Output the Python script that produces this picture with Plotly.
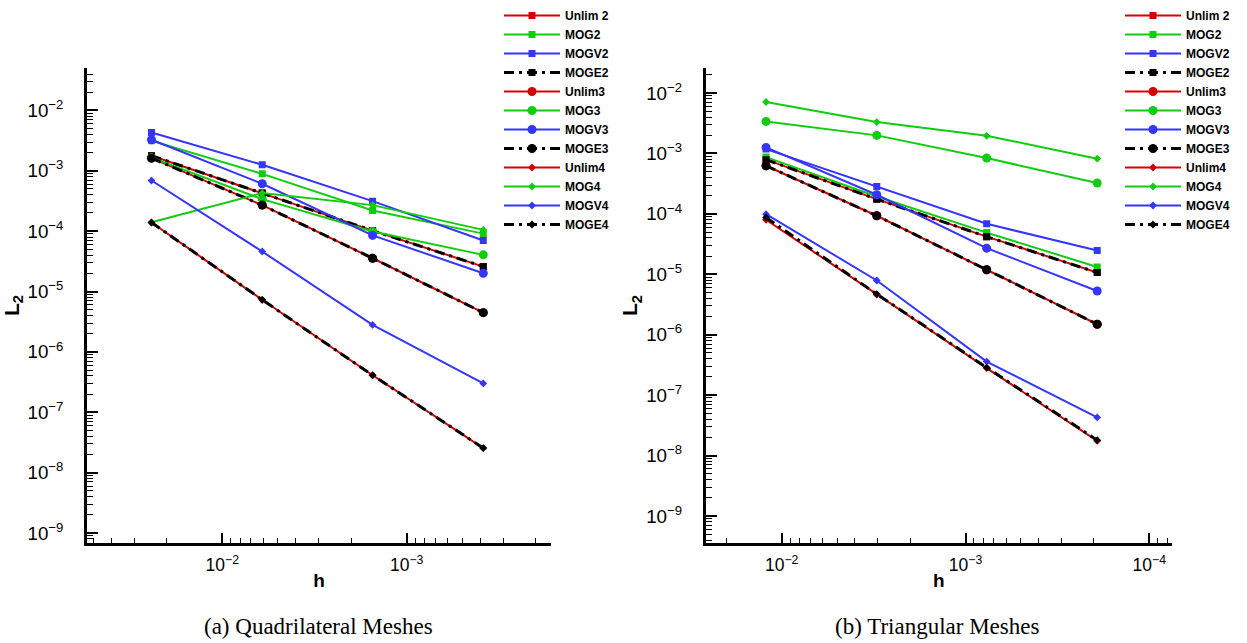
import plotly.graph_objects as go

# ---------------- data ----------------
series_names = ["Unlim 2", "MOG2", "MOGV2", "MOGE2",
                "Unlim3", "MOG3", "MOGV3", "MOGE3",
                "Unlim4", "MOG4", "MOGV4", "MOGE4"]

# (a) Quadrilateral meshes
h_quad = [0.0242, 0.00607, 0.00153, 0.000384]
quad_Unlim2 = [1.78e-3, 4.27e-4, 1.02e-4, 2.59e-5]
quad_MOG2 = [3.15e-3, 8.9e-4, 2.2e-4, 9.1e-5]
quad_MOGV2 = [4.31e-3, 1.26e-3, 3.14e-4, 7.0e-5]
quad_MOGE2 = [1.78e-3, 4.27e-4, 1.02e-4, 2.59e-5]
quad_Unlim3 = [1.62e-3, 2.7e-4, 3.56e-5, 4.47e-6]
quad_MOG3 = [1.65e-3, 3.39e-4, 9.9e-5, 4.05e-5]
quad_MOGV3 = [3.27e-3, 6.1e-4, 8.5e-5, 2.01e-5]
quad_MOGE3 = [1.62e-3, 2.7e-4, 3.56e-5, 4.47e-6]
quad_Unlim4 = [1.39e-4, 7.3e-6, 4.1e-7, 2.55e-8]
quad_MOG4 = [1.4e-4, 4.27e-4, 2.7e-4, 1.05e-4]
quad_MOGV4 = [6.9e-4, 4.6e-5, 2.8e-6, 3.0e-7]
quad_MOGE4 = [1.39e-4, 7.3e-6, 4.1e-7, 2.55e-8]

# (b) Triangular meshes
h_tri = [0.01217, 0.00304, 0.000767, 0.000192]
tri_Unlim2 = [7.9e-4, 1.75e-4, 4.2e-5, 1.07e-5]
tri_MOG2 = [8.7e-4, 1.94e-4, 4.9e-5, 1.32e-5]
tri_MOGV2 = [1.18e-3, 2.85e-4, 6.85e-5, 2.48e-5]
tri_MOGE2 = [7.9e-4, 1.75e-4, 4.2e-5, 1.07e-5]
tri_Unlim3 = [6.25e-4, 9.3e-5, 1.19e-5, 1.49e-6]
tri_MOG3 = [3.39e-3, 1.99e-3, 8.4e-4, 3.24e-4]
tri_MOGV3 = [1.26e-3, 2.07e-4, 2.71e-5, 5.3e-6]
tri_MOGE3 = [6.25e-4, 9.3e-5, 1.19e-5, 1.49e-6]
tri_Unlim4 = [7.98e-5, 4.6e-6, 2.8e-7, 1.75e-8]
tri_MOG4 = [7.1e-3, 3.31e-3, 1.96e-3, 8.2e-4]
tri_MOGV4 = [9.9e-5, 7.9e-6, 3.6e-7, 4.27e-8]
tri_MOGE4 = [8.7e-5, 4.7e-6, 2.86e-7, 1.8e-8]

quad_values = [quad_Unlim2, quad_MOG2, quad_MOGV2, quad_MOGE2,
               quad_Unlim3, quad_MOG3, quad_MOGV3, quad_MOGE3,
               quad_Unlim4, quad_MOG4, quad_MOGV4, quad_MOGE4]
tri_values = [tri_Unlim2, tri_MOG2, tri_MOGV2, tri_MOGE2,
              tri_Unlim3, tri_MOG3, tri_MOGV3, tri_MOGE3,
              tri_Unlim4, tri_MOG4, tri_MOGV4, tri_MOGE4]

# ---------------- styles ----------------
RED, GREEN, BLUE, BLACK = "#D40000", "#11CC11", "#3535FF", "#000000"
family_colors = [RED, GREEN, BLUE, BLACK]
order_symbols = [("square", 7), ("circle", 9), ("diamond", 6)]
DASHDOT = "10px,5px,3px,5px"

W, H = 1247, 643
FONT = "Liberation Sans"


def px_x(p):
    return p / W


def px_y(p):
    return 1 - p / H


fig = go.Figure()


def add_panel(hvals, values, xa, ya, legend_id):
    for i, (name, yv) in enumerate(zip(series_names, values)):
        color = family_colors[i % 4]
        symbol, msize = order_symbols[i // 4]
        is_black = (i % 4 == 3)
        fig.add_trace(go.Scatter(
            x=hvals, y=yv, name=name, mode="lines+markers",
            xaxis=xa, yaxis=ya, legend=legend_id,
            line=dict(color=color, width=3 if is_black else 2,
                      dash=DASHDOT if is_black else "solid"),
            marker=dict(symbol=symbol, size=msize, color=color,
                        line=dict(width=0)),
        ))


add_panel(h_quad, quad_values, "x", "y", "legend")
add_panel(h_tri, tri_values, "x2", "y2", "legend2")

top_px, bot_px = 68, 543


def xaxis_cfg(dom, rng, anchor):
    return dict(
        type="log", range=rng, domain=dom, anchor=anchor,
        showline=True, linewidth=3, linecolor="black", mirror=False,
        showgrid=False, zeroline=False,
        ticks="inside", ticklen=10, tickwidth=2, tickcolor="black",
        dtick=1, exponentformat="power",
        minor=dict(ticks="inside", ticklen=5, tickwidth=1,
                   tickcolor="black", dtick="D1", showgrid=False),
        tickfont=dict(family=FONT, size=14, color="black"),
        ticklabelstandoff=5,
        title=dict(text="<b>h</b>", font=dict(family=FONT, size=19, color="black"),
                   standoff=0),
        automargin=False,
    )


def yaxis_cfg(rng, anchor):
    return dict(
        type="log", range=rng, domain=[px_y(bot_px), px_y(top_px)], anchor=anchor,
        showline=True, linewidth=3, linecolor="black", mirror=False,
        showgrid=False, zeroline=False,
        ticks="inside", ticklen=11, tickwidth=2, tickcolor="black",
        dtick=1, exponentformat="power",
        minor=dict(ticks="inside", ticklen=6, tickwidth=1,
                   tickcolor="black", dtick="D1", showgrid=False),
        tickfont=dict(family=FONT, size=15, color="black"),
        ticklabelstandoff=18,
        title=dict(text="<b>L<sub>2</sub></b>",
                   font=dict(family=FONT, size=21, color="black"), standoff=3),
        automargin=False,
    )


legend_common = dict(
    font=dict(family=FONT, size=12, color="black", weight="bold"),
    bgcolor="rgba(0,0,0,0)", borderwidth=0, tracegroupgap=0,
    xanchor="left", yanchor="top", itemwidth=56,
)

fig.update_layout(
    width=W, height=H,
    margin=dict(l=0, r=0, t=0, b=0),
    paper_bgcolor="white", plot_bgcolor="white",
    showlegend=True,
    xaxis=xaxis_cfg([px_x(87.3), px_x(551)], [-1.268, -3.783], "y"),
    yaxis=yaxis_cfg([-9.166, -1.297], "x"),
    xaxis2=xaxis_cfg([px_x(706), px_x(1171.7)], [-1.588, -4.122], "y2"),
    yaxis2=yaxis_cfg([-9.447, -1.586], "x2"),
    legend=dict(x=px_x(499), y=px_y(1), **legend_common),
    legend2=dict(x=px_x(1120), y=px_y(1), **legend_common),
    annotations=[
        dict(text="(a) Quadrilateral Meshes", x=px_x(318), y=px_y(626),
             xref="paper", yref="paper", showarrow=False,
             xanchor="center", yanchor="middle",
             font=dict(family="Liberation Serif", size=23, color="black")),
        dict(text="(b) Triangular Meshes", x=px_x(937), y=px_y(626),
             xref="paper", yref="paper", showarrow=False,
             xanchor="center", yanchor="middle",
             font=dict(family="Liberation Serif", size=23, color="black")),
    ],
)

fig.write_html("out.html")
